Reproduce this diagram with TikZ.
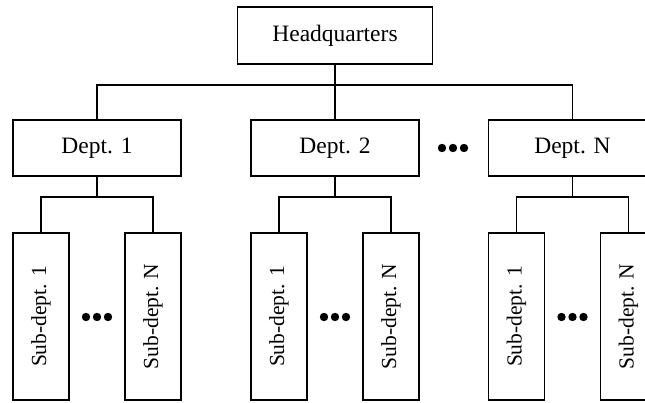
\documentclass[tikz,border=0pt]{standalone}
\usepackage{fontspec}
\setmainfont{Liberation Serif}
\begin{document}
\begin{tikzpicture}[x=1pt,y=-1pt,line width=1.3pt,
  box/.style={draw,minimum width=168pt,minimum height=56pt,inner sep=0pt,font=\fontsize{23.5}{28}\selectfont},
  hqbox/.style={box,minimum width=195pt,minimum height=57pt},
  subbox/.style={draw,rotate=90,minimum width=167pt,minimum height=56pt,inner sep=0pt,font=\fontsize{21.5}{26}\selectfont},
  threedots/.pic={\fill (-11,0) circle (4.2) (0,0) circle (4.2) (11,0) circle (4.2);}]
\clip (0,0) rectangle (645,402);
\fill[white] (0,0) rectangle (645,402);
% headquarters
\node[hqbox] (hq) at (335,35.5) {Headquarters};
% departments
\node[box] (d1) at (97,148) {Dept. 1};
\node[box] (d2) at (335,148) {Dept. 2};
\node[box] (dN) at (572.5,148) {Dept. N};
\pic at (453,148) {threedots};
% sub-departments
\node[subbox] (s11) at (41,316.5) {Sub-dept. 1};
\node[subbox] (s1N) at (153,316.5) {Sub-dept. N};
\node[subbox] (s21) at (279,316.5) {Sub-dept. 1};
\node[subbox] (s2N) at (391,316.5) {Sub-dept. N};
\node[subbox] (sN1) at (516.5,316.5) {Sub-dept. 1};
\node[subbox] (sNN) at (628.5,316.5) {Sub-dept. N};
\pic at (97,317) {threedots};
\pic at (335,317) {threedots};
\pic at (572.5,317) {threedots};
% connectors
\coordinate (hqj) at (hq.south |- 0,85);
\draw (hq.south) -- (hqj);
\draw (d1.north) |- (hqj) -| (dN.north);
\draw (hqj) -- (d2.north);
\coordinate (g1) at (d1.south |- 0,197);
\coordinate (g2) at (d2.south |- 0,197);
\coordinate (gN) at (dN.south |- 0,197);
\draw (d1.south) -- (g1);
\draw (d2.south) -- (g2);
\draw (dN.south) -- (gN);
\draw (s11.east) |- (g1) -| (s1N.east);
\draw (s21.east) |- (g2) -| (s2N.east);
\draw (sN1.east) |- (gN) -| (sNN.east);
\end{tikzpicture}
\end{document}
